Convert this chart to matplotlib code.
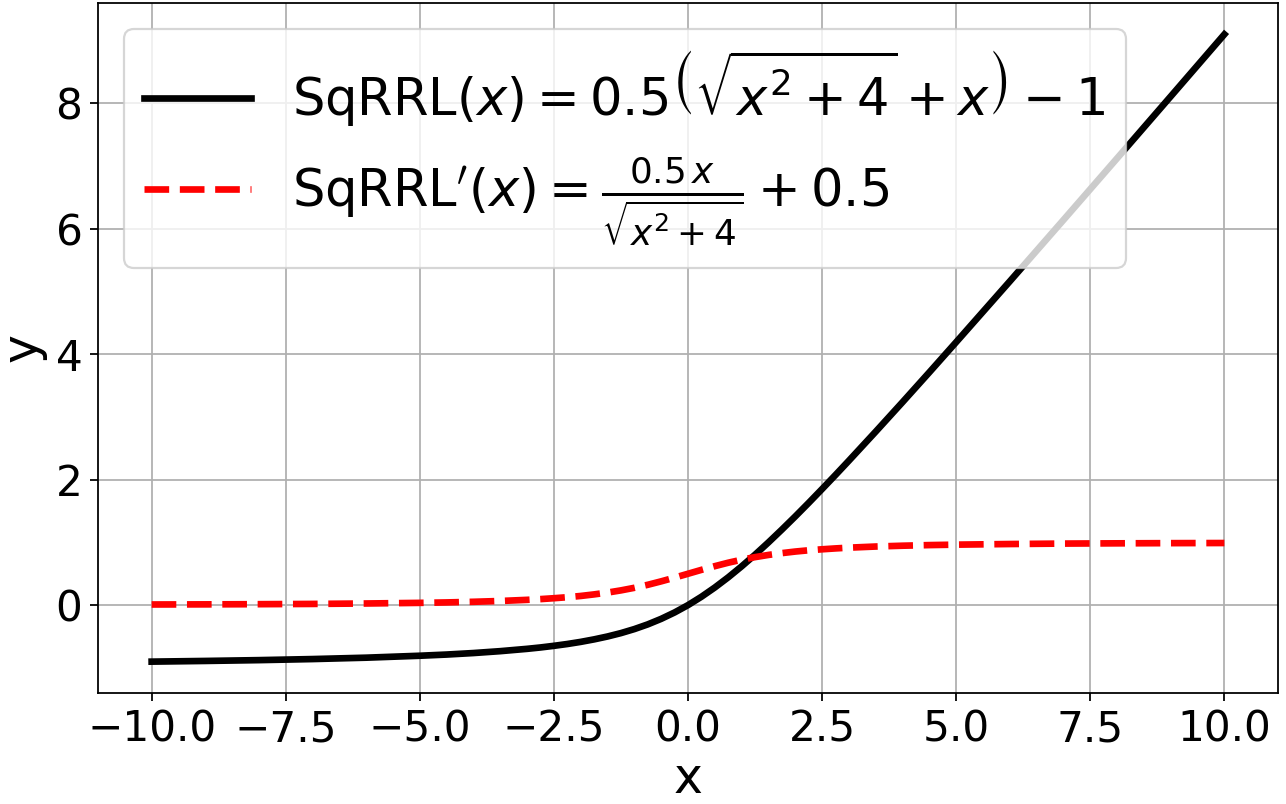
import matplotlib
matplotlib.use("Agg")
import matplotlib.pyplot as plt

# Values
x_vals = [-10, -9, -8, -7, -6, -5, -4.5, -4, -3.5, -3, -2.75, -2.5, -2.25, -2, -1.75,
          -1.5, -1.25, -1, -0.75, -0.5, -0.25, 0, 0.25, 0.5, 0.75, 1, 1.25, 1.5, 1.75,
          2, 2.25, 2.5, 2.75, 3, 3.5, 4, 4.5, 5, 6, 7, 8, 9, 10]
sqrrl_vals = [-0.901, -0.890, -0.877, -0.860, -0.838, -0.807, -0.788, -0.764, -0.734,
              -0.697, -0.675, -0.649, -0.620, -0.586, -0.546, -0.500, -0.446, -0.382,
              -0.307, -0.219, -0.117, 0.000, 0.133, 0.281, 0.443, 0.618, 0.804, 1.000,
              1.204, 1.414, 1.630, 1.851, 2.075, 2.303, 2.766, 3.236, 3.712, 4.193,
              5.162, 6.140, 7.123, 8.110, 9.099]
dsqrrl_vals = [0.010, 0.012, 0.015, 0.019, 0.026, 0.036, 0.043, 0.053, 0.066, 0.084,
               0.096, 0.110, 0.126, 0.146, 0.171, 0.200, 0.235, 0.276, 0.324, 0.379,
               0.438, 0.500, 0.562, 0.621, 0.676, 0.724, 0.765, 0.800, 0.829, 0.854,
               0.874, 0.890, 0.904, 0.916, 0.934, 0.947, 0.957, 0.964, 0.974, 0.981,
               0.985, 0.988, 0.990]

label_f = r'$\mathrm{SqRRL}(x) = 0.5\left(\sqrt{x^2+4}+x\right)-1$'
label_d = r"$\mathrm{SqRRL}'(x) = \frac{0.5\,x}{\sqrt{x^2+4}} + 0.5$"

dpi = 160
fig = plt.figure(figsize=(1286 / dpi, 804 / dpi), dpi=dpi)
ax = fig.add_axes([98 / 1286, 1 - 693 / 804, (1278 - 98) / 1286, (693 - 3) / 804])

ax.plot(x_vals, sqrrl_vals, color="black", lw=3, label=label_f)
ax.plot(x_vals, dsqrrl_vals, color="red", lw=3, ls="--", label=label_d)

ax.set_xlabel("x", fontsize=22, labelpad=2)
ax.set_ylabel("y", fontsize=22)
ax.tick_params(labelsize=19)
ax.grid(True)
ax.legend(loc="upper left", fontsize=23, handlelength=2.1)

fig.savefig("out.png", dpi=dpi)
